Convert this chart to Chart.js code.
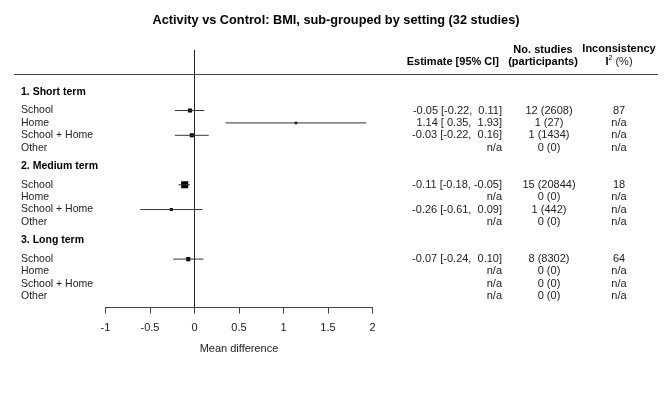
<!DOCTYPE html>
<html>
<head>
<meta charset="utf-8">
<script src="https://cdn.jsdelivr.net/npm/chart.js@4.4.1/dist/chart.umd.min.js"></script>
<style>
html, body { margin: 0; padding: 0; background: #fff; }
#wrap { width: 672px; height: 399px; }
</style>
</head>
<body>
<div id="wrap"><canvas id="chart"></canvas></div>
<script>
var chartTitle = 'Activity vs Control: BMI, sub-grouped by setting (32 studies)';
var groups = ['1. Short term', '2. Medium term', '3. Long term'];
var settings = ['School', 'Home', 'School + Home', 'Other'];
var estimate = [[-0.05, 1.14, -0.03, null], [-0.11, null, -0.26, null], [-0.07, null, null, null]];
var ciLow = [[-0.22, 0.35, -0.22, null], [-0.18, null, -0.61, null], [-0.24, null, null, null]];
var ciHigh = [[0.11, 1.93, 0.16, null], [-0.05, null, 0.09, null], [0.10, null, null, null]];
var studies = [[12, 1, 1, 0], [15, 0, 1, 0], [8, 0, 0, 0]];
var participants = [[2608, 27, 1434, 0], [20844, 0, 442, 0], [8302, 0, 0, 0]];
var inconsistency = [[87, null, null, null], [18, null, null, null], [64, null, null, null]];
var xTicks = [-1, -0.5, 0, 0.5, 1, 1.5, 2];
var xLabel = 'Mean difference';

// box sizes are styling only (weight of each estimate)
var boxRadius = [[2.9, 1.8, 2.9, 0], [5, 0, 2.1, 0], [2.9, 0, 0, 0]];

var FONT = '"Liberation Sans", Arial, sans-serif';
var TEXT = '#222';

// row layout: group header at g*6, items 1.5 rows below
function rowOf(g, i) {
    return i == null ? g * 6 : g * 6 + 1.5 + i;
}
var yTop = -3.39, yBottom = 17.42;

function fmt(v) {
    var s = v.toFixed(2);
    return s.length < 5 ? ' ' + s : s;
}

var points = [], radii = [], ciSets = [];
groups.forEach(function(g, gi) {
    settings.forEach(function(s, si) {
        if (estimate[gi][si] == null) return;
        var r = rowOf(gi, si);
        points.push({ x: estimate[gi][si], y: r });
        radii.push(boxRadius[gi][si]);
        ciSets.push({
            type: 'line',
            data: [{ x: ciLow[gi][si], y: r }, { x: ciHigh[gi][si], y: r }],
            borderColor: '#333',
            borderWidth: 1,
            pointRadius: 0
        });
    });
});

var datasets = [{
    type: 'line',
    data: [{ x: 0, y: yTop }, { x: 0, y: yBottom }],
    borderColor: '#222',
    borderWidth: 1,
    pointRadius: 0
}].concat(ciSets).concat([{
    type: 'scatter',
    data: points,
    pointStyle: 'rect',
    pointRadius: radii,
    backgroundColor: '#000',
    borderWidth: 0
}]);

var tablePlugin = {
    id: 'tablePlugin',
    afterDraw: function(chart) {
        var ctx = chart.ctx;
        var ys = chart.scales.y;
        ctx.save();
        ctx.textBaseline = 'middle';
        ctx.fillStyle = '#000';

        ctx.font = 'bold 12.75px ' + FONT;
        ctx.textAlign = 'center';
        ctx.fillText(chartTitle, 336, 20);

        // column headers
        ctx.font = 'bold 11px ' + FONT;
        ctx.textAlign = 'right';
        ctx.fillText('Estimate [95% CI]', 499, 62);
        ctx.textAlign = 'center';
        ctx.fillText('No. studies', 543, 50);
        ctx.fillText('(participants)', 543, 62);
        ctx.fillText('Inconsistency', 619, 49);
        // I² (%)
        ctx.textAlign = 'left';
        var wI = ctx.measureText('I').width;
        ctx.font = '7px ' + FONT;
        var w2 = ctx.measureText('2').width;
        ctx.font = '11px ' + FONT;
        var wP = ctx.measureText(' (%)').width;
        var x0 = 619 - (wI + w2 + wP) / 2;
        ctx.font = 'bold 11px ' + FONT;
        ctx.fillText('I', x0, 62);
        ctx.font = '7px ' + FONT;
        ctx.fillText('2', x0 + wI, 58);
        ctx.font = '11px ' + FONT;
        ctx.fillStyle = TEXT;
        ctx.fillText(' (%)', x0 + wI + w2, 62);

        // header rule
        var yl = Math.round(ys.getPixelForValue(-1.45)) + 0.5;
        ctx.strokeStyle = '#444';
        ctx.lineWidth = 1;
        ctx.beginPath();
        ctx.moveTo(14, yl);
        ctx.lineTo(658, yl);
        ctx.stroke();

        groups.forEach(function(g, gi) {
            ctx.font = 'bold 10.5px ' + FONT;
            ctx.fillStyle = '#000';
            ctx.textAlign = 'left';
            ctx.fillText(g, 21, ys.getPixelForValue(rowOf(gi)));
            settings.forEach(function(s, si) {
                var y = ys.getPixelForValue(rowOf(gi, si));
                ctx.fillStyle = TEXT;
                ctx.font = '10.5px ' + FONT;
                ctx.textAlign = 'left';
                ctx.fillText(s, 21, y);
                ctx.font = '11px ' + FONT;
                var est = estimate[gi][si];
                var txt = est == null ? 'n/a' :
                    est.toFixed(2) + ' [' + fmt(ciLow[gi][si]) + ', ' + fmt(ciHigh[gi][si]) + ']';
                ctx.textAlign = 'right';
                ctx.fillText(txt, 502, y);
                ctx.textAlign = 'center';
                ctx.fillText(studies[gi][si] + ' (' + participants[gi][si] + ')', 549, y);
                var i2 = inconsistency[gi][si];
                ctx.fillText(i2 == null ? 'n/a' : String(i2), 619, y);
            });
        });
        ctx.restore();
    }
};

new Chart(document.getElementById('chart'), {
    type: 'scatter',
    data: { datasets: datasets },
    plugins: [tablePlugin],
    options: {
        responsive: true,
        maintainAspectRatio: false,
        animation: false,
        layout: { padding: { left: 105.5, right: 299.5, top: 50, bottom: 38 } },
        plugins: {
            legend: { display: false },
            tooltip: { enabled: false }
        },
        scales: {
            x: {
                type: 'linear',
                min: -1,
                max: 2,
                afterBuildTicks: function(axis) {
                    axis.ticks = xTicks.map(function(v) { return { value: v }; });
                },
                ticks: {
                    color: TEXT,
                    font: { family: FONT, size: 11 },
                    padding: 8,
                    maxRotation: 0,
                    callback: function(v) { return String(v); }
                },
                grid: { drawOnChartArea: false, drawTicks: true, tickLength: 6, color: '#444' },
                border: { color: '#444' },
                title: {
                    display: true,
                    text: xLabel,
                    color: TEXT,
                    font: { family: FONT, size: 11 },
                    padding: { top: 0, bottom: 5 }
                }
            },
            y: {
                type: 'linear',
                display: false,
                reverse: true,
                min: yTop,
                max: yBottom
            }
        }
    }
});
</script>
</body>
</html>
